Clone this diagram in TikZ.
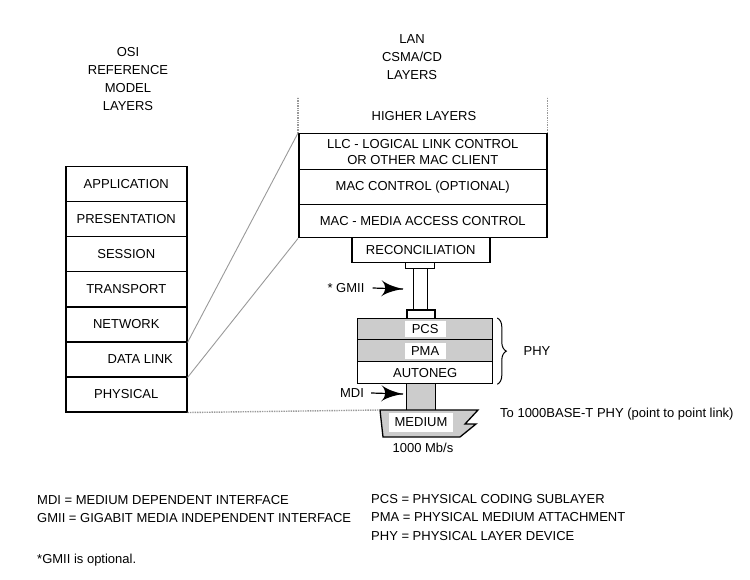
\documentclass[tikz,border=0pt]{standalone}
\usepackage{fontspec}
\setmainfont{Liberation Sans}
\usetikzlibrary{arrows}
\usetikzlibrary{decorations.markings}
\usetikzlibrary{decorations.pathreplacing}
\usetikzlibrary{positioning}
\definecolor{dither}{gray}{0.8}
\tikzset{->/.style = {decoration={markings,
                                  mark=at position 1 with {\arrow[scale=3.4]{latex'}}},
                      postaction={decorate}}}
\tikzset{osibox/.style = {draw, line width = 1.5pt, inner sep = 0,
                          minimum width = 121, minimum height = 35, anchor = north west}}
\tikzset{lanbox/.style = {draw, line width = 1.5pt, inner sep = 0, align = center,
                          minimum width = 248, anchor = north west}}
\tikzset{phybox/.style = {draw, line width = 1.3pt, inner sep = 0,
                          minimum width = 135, minimum height = 22, anchor = north west}}
\tikzset{plug/.style = {draw, line width = 1.3pt, inner sep = 0, anchor = north west}}
\tikzset{tag/.style = {fill = white, inner sep = 0, minimum width = 41, minimum height = 16}}
\tikzset{link/.style = {gray!80, line width = 0.9pt}}
\tikzset{dotline/.style = {gray!80, line width = 1.4pt, densely dotted}}
\tikzset{legend/.style = {anchor = west, inner sep = 0}}

\begin{document}
\begin{tikzpicture}[x=1pt, y=-1pt, font=\fontsize{13}{18}\selectfont]
    \useasboundingbox (0, 0) rectangle (750, 580);

    % OSI reference model
    \node (osititle) [align = center] at (128, 79) {OSI\\REFERENCE\\MODEL\\LAYERS};
    \node (osiapp) [osibox] at (65, 166) {APPLICATION};
    \node (osipres) [osibox] at (65, 201) {PRESENTATION};
    \node (osises) [osibox] at (65, 236) {SESSION};
    \node (ositrans) [osibox] at (65, 271) {TRANSPORT};
    \node (osinet) [osibox] at (65, 306) {NETWORK};
    \node (osidl) [osibox] at (65, 341) {\hspace{28pt}DATA LINK};
    \node (osiphy) [osibox] at (65, 376) {PHYSICAL};

    % LAN CSMA/CD layers
    \node (lantitle) [align = center] at (412, 57) {LAN\\CSMA/CD\\LAYERS};
    \node (higher) at (424, 116) {HIGHER LAYERS};
    \node (llc) [lanbox, minimum height = 36] at (298, 133)
          {LLC - LOGICAL LINK CONTROL\\[-2pt]OR OTHER MAC CLIENT};
    \node (macctl) [lanbox, minimum height = 35] at (298, 169) {MAC CONTROL (OPTIONAL)};
    \node (mac) [lanbox, minimum height = 33] at (298, 204) {MAC - MEDIA ACCESS CONTROL};
    \node (recon) [plug, line width = 1.5pt, minimum width = 138, minimum height = 25]
          at (351, 237) {RECONCILIATION};
    \draw [dotline] (llc.north west) -- ++(0, -36);
    \draw [dotline] (llc.north east) -- ++(0, -36);

    % GMII
    \node (gmiitop) [plug, minimum width = 29, minimum height = 6] at (405, 262) {};
    \node (tube) [plug, minimum width = 14, minimum height = 41] at (413, 268) {};
    \node (gmiibot) [plug, line width = 1.8pt, minimum width = 28, minimum height = 9]
          at (406, 309) {};
    \node (gmii) [inner sep = 0] at (346, 288) {* GMII};
    \coordinate (gmiitip) at (403, 289);
    \draw [->, line width = 1.2pt] ([xshift = 8]gmii.east) -- (gmiitip);

    % PHY
    \node (pcs) [phybox, fill = dither, minimum height = 21] at (357, 318) {};
    \node [tag] at (pcs) {PCS};
    \node (pma) [phybox, fill = dither] at (357, 339) {};
    \node [tag] at (pma) {PMA};
    \node (autoneg) [phybox] at (357, 361) {AUTONEG};
    \draw [decorate, decoration = {brace, amplitude = 9pt}, line width = 1pt]
          ([xshift = 4]pcs.north east) -- ([xshift = 4]autoneg.south east);
    \node (phy) at (537, 351) {PHY};

    % MDI and medium
    \node (mdiplug) [plug, fill = dither, minimum width = 29, minimum height = 27]
          at (406, 383) {};
    \node (mdi) [inner sep = 0] at (352, 393) {MDI};
    \coordinate (mditip) at (403, 394);
    \draw [->, line width = 1.2pt] ([xshift = 7]mdi.east) -- (mditip);
    \coordinate (medtl) at (380, 410);
    \draw [line width = 1.3pt, fill = dither] (medtl) -- (478, 410) -- (465, 424)
          -- (476, 424) -- (460, 437) -- (383, 437) -- cycle;
    \node (medium) [fill = white, inner sep = 0, minimum width = 64, minimum height = 19]
          at (421, 422) {MEDIUM};
    \node (rate) at (423, 448) {1000 Mb/s};
    \node (tolink) [legend] at (500, 414) {To 1000BASE-T PHY (point to point link)};

    % mapping between the two models
    \draw [link] (osinet.south east) -- (llc.north west);
    \draw [link] (osidl.south east) -- (mac.south west);
    \draw [dotline] (osiphy.south east) -- (medtl);

    % legend
    \node (mdidef) [legend] at (37, 500) {MDI = MEDIUM DEPENDENT INTERFACE};
    \node (gmiidef) [legend] at (37, 518) {GMII = GIGABIT MEDIA INDEPENDENT INTERFACE};
    \node (pcsdef) [legend] at (371, 499) {PCS = PHYSICAL CODING SUBLAYER};
    \node (pmadef) [legend] at (371, 517) {PMA = PHYSICAL MEDIUM ATTACHMENT};
    \node (phydef) [legend] at (371, 536) {PHY = PHYSICAL LAYER DEVICE};
    \node (note) [legend] at (37, 560) {*GMII is optional.};
  \end{tikzpicture}
\end{document}
